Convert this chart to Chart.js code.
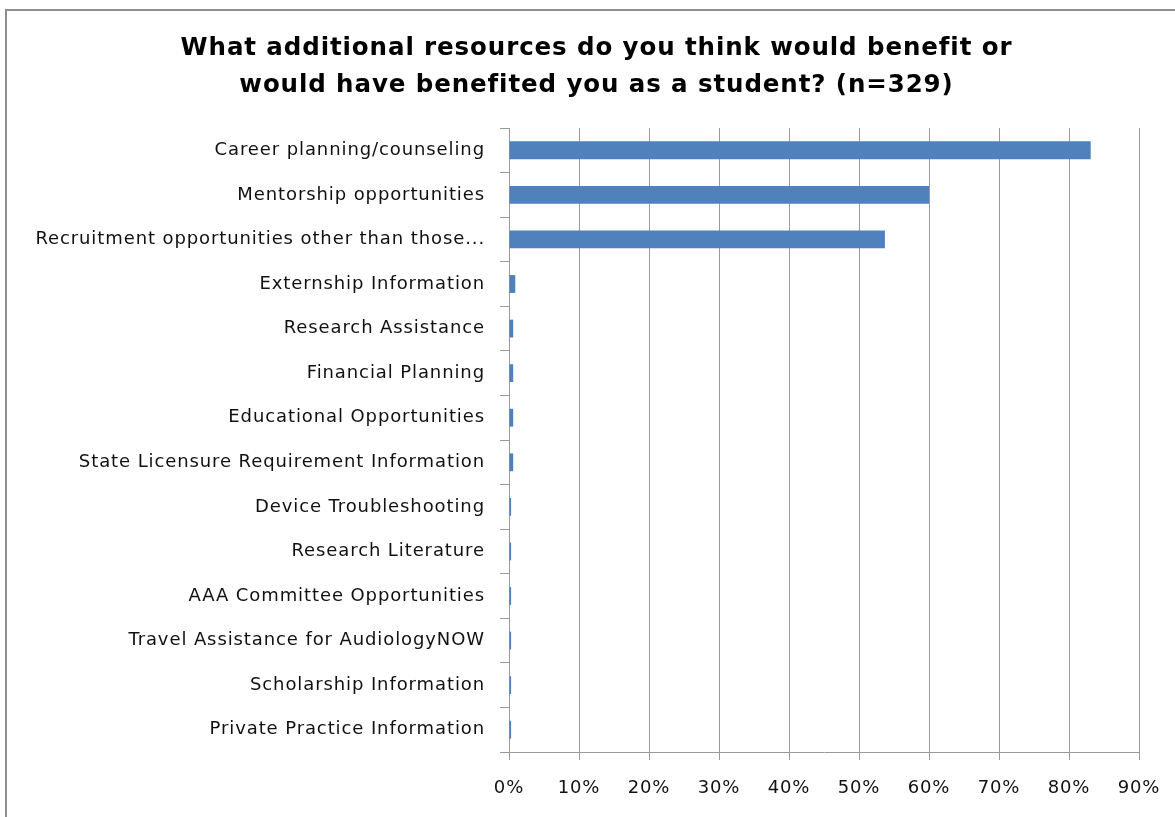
<!DOCTYPE html>
<html>
<head>
<meta charset="utf-8">
<script src="https://cdn.jsdelivr.net/npm/chart.js@4"></script>
<style>
  html, body { margin: 0; padding: 0; background: #fff; }
  #wrap { width: 1175px; height: 817px; position: relative; }
</style>
</head>
<body>
<div id="wrap"><canvas id="chart" width="1175" height="817"></canvas></div>
<script>
// --- Data ---
const categories = [
    'Career planning/counseling',
    'Mentorship opportunities',
    'Recruitment opportunities other than those...',
    'Externship Information',
    'Research Assistance',
    'Financial Planning',
    'Educational Opportunities',
    'State Licensure Requirement Information',
    'Device Troubleshooting',
    'Research Literature',
    'AAA Committee Opportunities',
    'Travel Assistance for AudiologyNOW',
    'Scholarship Information',
    'Private Practice Information'
];
const percentValues = [83.1, 60.0, 53.7, 0.9, 0.6, 0.6, 0.6, 0.6, 0.3, 0.3, 0.3, 0.3, 0.3, 0.3];
const xTickValues = [0, 10, 20, 30, 40, 50, 60, 70, 80, 90];
const titleLines = [
    'What additional resources do you think would benefit or',
    'would have benefited you as a student? (n=329)'
];

const labelFont = { family: 'DejaVu Sans', size: 18 };

// grey frame round the chart (only top and left edges are visible)
// also widen the lettering a bit, the original text is stretched sideways
const framePlugin = {
    id: 'frame',
    beforeDraw(chart) {
        const ctx = chart.ctx;
        ctx.save();
        ctx.strokeStyle = '#8f8f8f';
        ctx.lineWidth = 2;
        ctx.beginPath();
        ctx.moveTo(6, 817);
        ctx.lineTo(6, 10);
        ctx.lineTo(1175, 10);
        ctx.stroke();
        ctx.restore();
        ctx.letterSpacing = '0.9px';
    }
};

const ctx = document.getElementById('chart').getContext('2d');
new Chart(ctx, {
    type: 'bar',
    data: {
        labels: categories,
        datasets: [{
            data: percentValues,
            backgroundColor: '#4F81BD',
            borderWidth: 0,
            categoryPercentage: 1,
            barPercentage: 0.4
        }]
    },
    options: {
        indexAxis: 'y',
        responsive: false,
        animation: false,
        layout: { padding: { left: 18, right: 0, top: 0, bottom: 0 } },
        plugins: {
            legend: { display: false },
            tooltip: { enabled: false },
            title: {
                display: true,
                text: titleLines,
                color: '#000',
                font: { family: 'DejaVu Sans', size: 24.5, weight: 'bold', lineHeight: 37 / 24.5 },
                padding: { top: 30, bottom: 24 }
            }
        },
        scales: {
            x: {
                min: 0,
                max: 90,
                afterBuildTicks(scale) {
                    scale.ticks = xTickValues.map(v => ({ value: v }));
                },
                afterFit(scale) {
                    scale.height = 65;
                    scale.paddingRight = 36;
                },
                ticks: {
                    color: '#111',
                    font: labelFont,
                    padding: 18,
                    callback: v => v + '%'
                },
                grid: {
                    color: '#9a9a9a',
                    lineWidth: 1,
                    tickLength: 8,
                    drawTicks: true
                },
                border: { color: '#9a9a9a', width: 1 }
            },
            y: {
                afterFit(scale) { scale.width = 509 - 18; },
                ticks: {
                    color: '#111',
                    font: labelFont,
                    padding: 15,
                    autoSkip: false
                },
                grid: {
                    drawOnChartArea: false,
                    color: '#9a9a9a',
                    tickLength: 9
                },
                border: { color: '#9a9a9a', width: 1 }
            }
        }
    },
    plugins: [framePlugin]
});
</script>
</body>
</html>
